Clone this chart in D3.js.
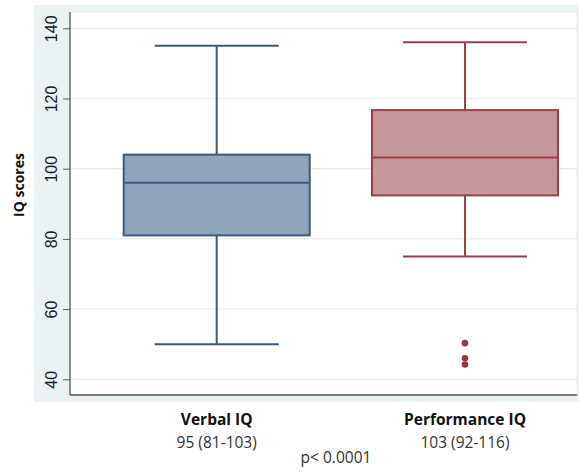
<!DOCTYPE html>
<html>
<head>
<meta charset="UTF-8">
<title>IQ scores</title>
<style>
  body { margin: 0; background: #fff; }
</style>
</head>
<body>
<svg width="579" height="475"></svg>
<script src="https://d3js.org/d3.v7.min.js"></script>
<script>
  // data
  const groups = ["Verbal IQ", "Performance IQ"];
  const summaries = ["95 (81-103)", "103 (92-116)"];
  const lowWhisker = [50, 75];
  const q1 = [81, 92.4];
  const median = [96, 103.2];
  const q3 = [104, 116.7];
  const highWhisker = [135, 136];
  const outliers = [[], [50.3, 46, 44.2]];
  const yTicks = [40, 60, 80, 100, 120, 140];
  const pText = "p< 0.0001";

  const fills = ["#8fa4b8", "#c6989b"];
  const strokes = ["#3a5b7c", "#9e3e46"];

  const svg = d3.select("svg");

  // graph region background
  svg.append("rect")
    .attr("x", 34).attr("y", 5)
    .attr("width", 545).attr("height", 397)
    .attr("fill", "#eaf2f3");

  const plot = { left: 70, right: 577, top: 12, bottom: 395 };

  svg.append("rect")
    .attr("x", plot.left).attr("y", plot.top)
    .attr("width", plot.right - plot.left).attr("height", plot.bottom - plot.top)
    .attr("fill", "#fff")
    .attr("stroke", "#e6eff0");

  const y = d3.scaleLinear().domain([40, 140]).range([379.3, 28.3]);
  const x = d3.scalePoint().domain(groups).range([216.7, 465]);
  const boxW = 186;
  const capW = 124;

  // gridlines
  svg.append("g")
    .selectAll("line")
    .data(yTicks)
    .join("line")
      .attr("x1", plot.left).attr("x2", plot.right)
      .attr("y1", d => y(d)).attr("y2", d => y(d))
      .attr("stroke", "#e6eff0")
      .attr("stroke-width", 1.2);

  // y axis
  const yAxis = svg.append("g")
    .attr("transform", `translate(${plot.left},0)`)
    .call(d3.axisLeft(y).tickValues(yTicks).tickSize(7).tickPadding(4));
  yAxis.select(".domain").remove();
  yAxis.selectAll(".tick line").attr("stroke", "#555");
  yAxis.selectAll(".tick text")
    .attr("transform", "rotate(-90)")
    .attr("x", 0).attr("y", -13)
    .attr("dy", 0)
    .attr("text-anchor", "middle")
    .attr("fill", "#1a1a1a")
    .style("font-family", "Liberation Sans, Arial, sans-serif")
    .style("font-size", "16px");

  svg.append("line")
    .attr("x1", plot.left).attr("x2", plot.left)
    .attr("y1", plot.top).attr("y2", plot.bottom)
    .attr("stroke", "#555").attr("stroke-width", 1.3);
  svg.append("line")
    .attr("x1", plot.left).attr("x2", plot.right)
    .attr("y1", plot.bottom).attr("y2", plot.bottom)
    .attr("stroke", "#555").attr("stroke-width", 1.3);

  svg.append("text")
    .attr("transform", "translate(24,185) rotate(-90)")
    .attr("text-anchor", "middle")
    .attr("fill", "#111")
    .style("font-family", "Open Sans, sans-serif")
    .style("font-weight", "bold")
    .style("font-size", "14px")
    .text("IQ scores");

  // boxes
  const boxes = svg.append("g")
    .selectAll("g")
    .data(groups)
    .join("g");

  boxes.append("line")
    .attr("x1", d => x(d)).attr("x2", d => x(d))
    .attr("y1", (d, i) => y(highWhisker[i])).attr("y2", (d, i) => y(q3[i]))
    .attr("stroke", (d, i) => strokes[i]).attr("stroke-width", 2);
  boxes.append("line")
    .attr("x1", d => x(d)).attr("x2", d => x(d))
    .attr("y1", (d, i) => y(q1[i])).attr("y2", (d, i) => y(lowWhisker[i]))
    .attr("stroke", (d, i) => strokes[i]).attr("stroke-width", 2);
  boxes.append("line")
    .attr("x1", d => x(d) - capW / 2).attr("x2", d => x(d) + capW / 2)
    .attr("y1", (d, i) => y(highWhisker[i])).attr("y2", (d, i) => y(highWhisker[i]))
    .attr("stroke", (d, i) => strokes[i]).attr("stroke-width", 2);
  boxes.append("line")
    .attr("x1", d => x(d) - capW / 2).attr("x2", d => x(d) + capW / 2)
    .attr("y1", (d, i) => y(lowWhisker[i])).attr("y2", (d, i) => y(lowWhisker[i]))
    .attr("stroke", (d, i) => strokes[i]).attr("stroke-width", 2);
  boxes.append("rect")
    .attr("x", d => x(d) - boxW / 2)
    .attr("width", boxW)
    .attr("y", (d, i) => y(q3[i]))
    .attr("height", (d, i) => y(q1[i]) - y(q3[i]))
    .attr("fill", (d, i) => fills[i])
    .attr("stroke", (d, i) => strokes[i]).attr("stroke-width", 2);
  boxes.append("line")
    .attr("x1", d => x(d) - boxW / 2).attr("x2", d => x(d) + boxW / 2)
    .attr("y1", (d, i) => y(median[i])).attr("y2", (d, i) => y(median[i]))
    .attr("stroke", (d, i) => strokes[i]).attr("stroke-width", 2);

  boxes.each(function (d, i) {
    d3.select(this).selectAll("circle")
      .data(outliers[i])
      .join("circle")
        .attr("cx", x(d))
        .attr("cy", v => y(v))
        .attr("r", 3.3)
        .attr("fill", "#93363d");
  });

  // category labels
  const labels = svg.append("g")
    .selectAll("g")
    .data(groups)
    .join("g")
      .attr("transform", d => `translate(${x(d)},0)`)
      .style("font-family", "Open Sans, sans-serif")
      .attr("text-anchor", "middle");
  labels.append("text")
    .attr("y", 425)
    .attr("fill", "#111")
    .style("font-weight", "bold")
    .style("font-size", "15.5px")
    .text(d => d);
  labels.append("text")
    .attr("y", 448)
    .attr("fill", "#333")
    .style("font-size", "15.5px")
    .text((d, i) => summaries[i]);

  svg.append("text")
    .attr("x", 336).attr("y", 463)
    .attr("text-anchor", "middle")
    .attr("fill", "#333")
    .style("font-family", "Open Sans, sans-serif")
    .style("font-size", "15.5px")
    .text(pText);
</script>
</body>
</html>
